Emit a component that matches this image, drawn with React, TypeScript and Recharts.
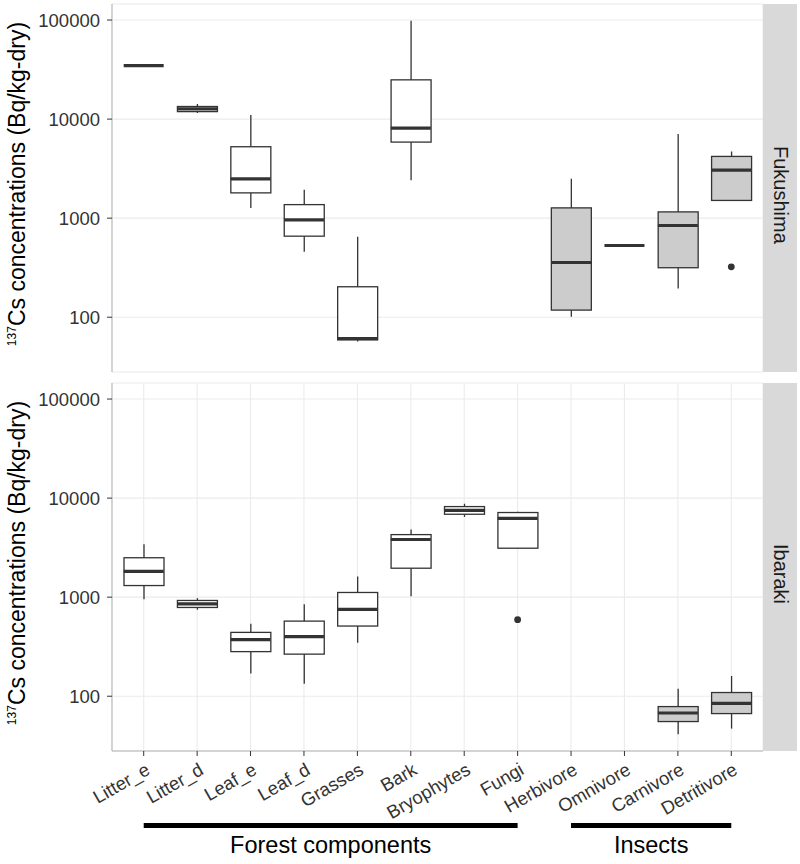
import { ComposedChart, Bar, Scatter, XAxis, YAxis, CartesianGrid, Label } from 'recharts';

const categories = [
  'Litter_e', 'Litter_d', 'Leaf_e', 'Leaf_d', 'Grasses', 'Bark',
  'Bryophytes', 'Fungi', 'Herbivore', 'Omnivore', 'Carnivore', 'Detritivore',
];
const groupOf = [0, 0, 0, 0, 0, 0, 0, 0, 1, 1, 1, 1];
const groupLabels = ['Forest components', 'Insects'];
const groupFills = ['#ffffff', '#cccccc'];

// Fukushima: whisker low, Q1, median, Q3, whisker high, outliers (Bq/kg-dry)
const fukushimaLow = [34700, 11500, 1270, 458, 57, 2410, null, null, 101, 530, 195, 1510];
const fukushimaQ1 = [34700, 11900, 1800, 658, 59, 5860, null, null, 118, 530, 316, 1510];
const fukushimaMedian = [34700, 12700, 2490, 961, 61, 8110, null, null, 357, 530, 843, 3060];
const fukushimaQ3 = [34700, 13400, 5260, 1370, 203, 24900, null, null, 1270, 530, 1157, 4200];
const fukushimaHigh = [34700, 14200, 11000, 1940, 649, 98400, null, null, 2500, 530, 7060, 4720];
const fukushimaOutlier = [null, null, null, null, null, null, null, null, null, null, null, 323];

// Ibaraki
const ibarakiLow = [955, 747, 170, 134, 347, 1023, 6460, 3120, null, null, 41.3, 47.1];
const ibarakiQ1 = [1310, 787, 282, 266, 511, 1960, 6870, 3120, null, null, 55.5, 66.8];
const ibarakiMedian = [1820, 857, 372, 399, 752, 3820, 7530, 6250, null, null, 67.7, 84.7];
const ibarakiQ3 = [2500, 926, 441, 573, 1115, 4280, 8210, 7150, null, null, 78.6, 109];
const ibarakiHigh = [3420, 977, 540, 850, 1620, 4810, 8750, 7260, null, null, 119, 160];
const ibarakiOutlier = [null, null, null, null, null, null, null, 592, null, null, null, null];

const majorTicks = [100, 1000, 10000, 100000];
const minorTicks = [31.6, 316, 3162, 31623];

const INK = '#333333';
const BORDER = '#b3b3b3';
const FONT = '"Liberation Sans", Arial, Helvetica, sans-serif';
const BOX_W = 40;
const X_PAD = 5;
const PLOT_LEFT = 112;
const PLOT_RIGHT = 763;
const STEP = (PLOT_RIGHT - PLOT_LEFT - 2 * X_PAD) / categories.length;

function buildRows(low, q1, med, q3, high, outlier) {
  return categories.map((name, i) => ({
    name,
    group: groupOf[i],
    whisker: low[i] == null ? null : [low[i], high[i]],
    box: q1[i] == null ? null : [q1[i], q3[i]],
    median: med[i],
    outlier: outlier[i],
  }));
}

const fukushimaRows = buildRows(fukushimaLow, fukushimaQ1, fukushimaMedian, fukushimaQ3, fukushimaHigh, fukushimaOutlier);
const ibarakiRows = buildRows(ibarakiLow, ibarakiQ1, ibarakiMedian, ibarakiQ3, ibarakiHigh, ibarakiOutlier);

// shared log scale, expanded 5% like ggplot
const allValues = [
  ...fukushimaLow, ...fukushimaHigh, ...fukushimaOutlier,
  ...ibarakiLow, ...ibarakiHigh, ...ibarakiOutlier,
].filter((v) => v != null) as number[];
const logMin = Math.log10(Math.min(...allValues));
const logMax = Math.log10(Math.max(...allValues));
const logPad = (logMax - logMin) * 0.05;
const yDomain = [10 ** (logMin - logPad), 10 ** (logMax + logPad)];

const WhiskerShape = (p: any) => {
  if (p.payload?.whisker == null || !Number.isFinite(p.y)) return <g />;
  const cx = p.x + p.width / 2;
  return <line x1={cx} x2={cx} y1={p.y} y2={p.y + p.height} stroke={INK} strokeWidth={1.3} />;
};

const BoxShape = (p: any) => {
  if (p.payload?.box == null || !Number.isFinite(p.y)) return <g />;
  const y = Math.min(p.y, p.y + p.height);
  return (
    <rect x={p.x} y={y} width={p.width} height={Math.abs(p.height)}
      fill={groupFills[p.payload.group]} stroke={INK} strokeWidth={1.3} />
  );
};

const MedianShape = (p: any) => {
  if (p.payload?.median == null || !Number.isFinite(p.cy)) return <g />;
  return <line x1={p.cx - BOX_W / 2} x2={p.cx + BOX_W / 2} y1={p.cy} y2={p.cy} stroke={INK} strokeWidth={3.2} />;
};

const OutlierShape = (p: any) => {
  if (p.payload?.outlier == null || !Number.isFinite(p.cy)) return <g />;
  return <circle cx={p.cx} cy={p.cy} r={3.4} fill={INK} />;
};

// category label + (on a group's first category) the group bar and its caption
const CategoryTick = (p: any) => {
  const { x, y, payload, index } = p;
  const g = groupOf[index];
  const members = categories.filter((_, i) => groupOf[i] === g);
  const first = categories[index] === members[0];
  const span = (members.length - 1) * STEP;
  return (
    <g>
      <text transform={`translate(${x + 1},${y + 6}) rotate(-30)`} x={0} y={13}
        textAnchor="end" fontSize={18.5} fill={INK} fontFamily={FONT}>
        {payload.value}
      </text>
      {first && (
        <g>
          <line x1={x} x2={x + span} y1={y + 69.5} y2={y + 69.5} stroke="#000" strokeWidth={5} />
          <text x={x + span / 2} y={y + 97} textAnchor="middle" fontSize={23.5} fill="#000" fontFamily={FONT}>
            {groupLabels[g]}
          </text>
        </g>
      )}
    </g>
  );
};

const YTitle = (p: any) => {
  const vb = p.viewBox;
  const cy = vb.y + vb.height / 2 - 4;
  return (
    <text transform={`rotate(-90, 25, ${cy})`} x={25} y={cy} textAnchor="middle" fontSize={23} fill="#000" fontFamily={FONT}>
      <tspan fontSize={12} dy={-9}>137</tspan>
      <tspan dy={9}>Cs concentrations (Bq/kg-dry)</tspan>
    </text>
  );
};

function Panel({ rows, strip, top, height, marginTop, xAxisHeight, showTicks }: any) {
  const plotHeight = height - marginTop - (showTicks ? xAxisHeight : 4);
  return (
    <div style={{ position: 'absolute', left: 0, top }}>
      <ComposedChart width={800} height={height} data={rows}
        margin={{ top: marginTop, right: 800 - PLOT_RIGHT, bottom: showTicks ? 0 : 4, left: PLOT_LEFT - 60 }}>
        <CartesianGrid stroke="#ebebeb" strokeWidth={1.1} yAxisId={0} xAxisId={0} />
        <CartesianGrid stroke="#f3f3f3" strokeWidth={0.8} vertical={false} yAxisId="minor" xAxisId={0} />
        <XAxis xAxisId={0} dataKey="name" type="category" interval={0} padding={{ left: X_PAD, right: X_PAD }}
          height={showTicks ? xAxisHeight : 0} tickSize={5} tickMargin={0}
          tick={showTicks ? <CategoryTick /> : false}
          tickLine={showTicks ? { stroke: INK } : false} axisLine={{ stroke: BORDER }} />
        <XAxis xAxisId={1} dataKey="name" type="category" orientation="top" interval={0}
          padding={{ left: X_PAD, right: X_PAD }} height={0} tick={false} tickLine={false} axisLine={{ stroke: BORDER }} />
        <YAxis yAxisId={0} scale="log" domain={yDomain} allowDataOverflow ticks={majorTicks} width={60}
          tickSize={5} tickMargin={7} tick={{ fontSize: 18.5, fill: INK, fontFamily: FONT }}
          tickLine={{ stroke: INK }} axisLine={{ stroke: BORDER }}>
          <Label content={YTitle} />
        </YAxis>
        <YAxis yAxisId="minor" orientation="right" scale="log" domain={yDomain} allowDataOverflow ticks={minorTicks}
          width={0} tick={false} tickLine={false} axisLine={{ stroke: BORDER }} />
        <Bar dataKey="whisker" xAxisId={0} yAxisId={0} barSize={BOX_W} shape={WhiskerShape} isAnimationActive={false} />
        <Bar dataKey="box" xAxisId={1} yAxisId={0} barSize={BOX_W} shape={BoxShape} isAnimationActive={false} />
        <Scatter dataKey="median" xAxisId={0} yAxisId={0} shape={MedianShape} isAnimationActive={false} />
        <Scatter dataKey="outlier" xAxisId={0} yAxisId={0} shape={OutlierShape} isAnimationActive={false} />
      </ComposedChart>
      <div style={{
        position: 'absolute', left: PLOT_RIGHT, top: marginTop, width: 34, height: plotHeight,
        background: '#d9d9d9', display: 'flex', alignItems: 'center', justifyContent: 'center',
        boxSizing: 'border-box', paddingTop: 14,
      }}>
        <span style={{ writingMode: 'vertical-rl', fontSize: 20, color: '#1a1a1a', fontFamily: FONT }}>{strip}</span>
      </div>
    </div>
  );
}

export default function App() {
  return (
    <div style={{ position: 'absolute', left: 0, top: 0, width: 800, height: 864, background: '#fff', fontFamily: FONT }}>
      <Panel rows={fukushimaRows} strip="Fukushima" top={0} height={376} marginTop={4} xAxisHeight={0} showTicks={false} />
      <Panel rows={ibarakiRows} strip="Ibaraki" top={376} height={488} marginTop={7} xAxisHeight={113} showTicks />
    </div>
  );
}
